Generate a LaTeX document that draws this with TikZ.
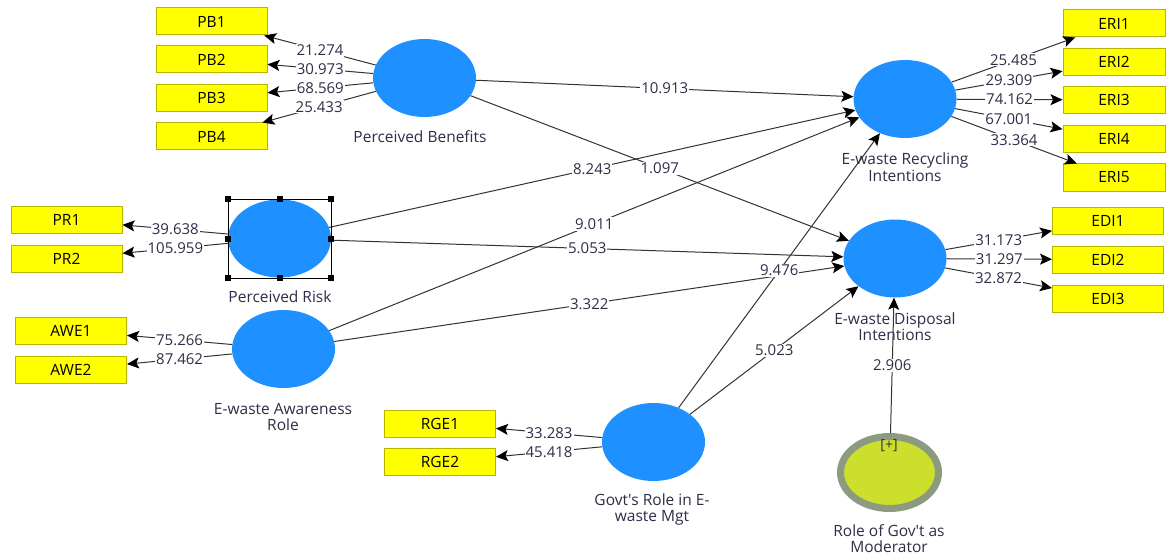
\documentclass[tikz,border=0pt]{standalone}
\usepackage{fontspec}
\setmainfont{Open Sans}
\usetikzlibrary{arrows.meta,shapes.geometric}
\definecolor{lvblue}{HTML}{1E90FF}
\definecolor{boxyel}{HTML}{FFFF00}
\definecolor{boxedge}{HTML}{B5B500}
\definecolor{modfill}{HTML}{CCDF2C}
\definecolor{modring}{HTML}{8C9A80}
\definecolor{txt}{HTML}{2E2E48}
\definecolor{edgec}{HTML}{333333}
\begin{document}
\begin{tikzpicture}[x=1pt,y=-1pt,
  lv/.style={ellipse, fill=lvblue, minimum width=103pt, minimum height=78pt, inner sep=0pt},
  ind/.style={rectangle, fill=boxyel, draw=boxedge, line width=1pt, minimum width=111pt, minimum height=27pt, inner sep=0pt, font=\fontsize{15.5}{18}\selectfont},
  indr/.style={ind, minimum width=102pt},
  lab/.style={fill=white, inner sep=1pt, text=txt, font=\fontsize{15}{16}\selectfont},
  lvname/.style={text=txt, align=center, font=\fontsize{15.5}{16.5}\selectfont},
  arr/.style={draw=edgec, line width=1pt, -{Stealth[length=12pt,width=11pt,inset=2.5pt,color=black]}},
  handle/.style={fill=black, minimum size=6pt, inner sep=0pt}]
\useasboundingbox (0,0) rectangle (1166,556);
\fill[white] (0,0) rectangle (1166,556);

% latent variables
\node[lv] (pb) at (424.5,78) {};
\node[lv] (pr) at (279.5,238.5) {};
\node[lv] (awe) at (283.5,349) {};
\node[lv] (rge) at (653.5,442) {};
\node[lv] (eri) at (905,99) {};
\node[lv] (edi) at (895,258.5) {};
\node[ellipse, fill=modfill, draw=modring, line width=7pt, minimum width=98pt, minimum height=72pt, inner sep=0pt] (mod) at (889.5,472.5) {};
\node[font=\fontsize{14}{16}\selectfont, text=black!80] (plus) at (889,446) {[+]};

% indicators
\node[ind] (pb1) at (211.5,21.5) {PB1};
\node[ind] (pb2) at (211.5,59.5) {PB2};
\node[ind] (pb3) at (211.5,98) {PB3};
\node[ind] (pb4) at (211.5,136.5) {PB4};
\node[ind] (pr1) at (66.5,220) {PR1};
\node[ind] (pr2) at (66.5,258.5) {PR2};
\node[ind] (awe1) at (71,330.5) {AWE1};
\node[ind] (awe2) at (71,369.5) {AWE2};
\node[ind] (rge1) at (440,423.5) {RGE1};
\node[ind] (rge2) at (440,462) {RGE2};
\node[indr] (eri1) at (1114,23.5) {ERI1};
\node[indr] (eri2) at (1114,62) {ERI2};
\node[indr] (eri3) at (1114,100) {ERI3};
\node[indr] (eri4) at (1114,139) {ERI4};
\node[indr] (eri5) at (1114,177.5) {ERI5};
\node[ind] (edi1) at (1108,221) {EDI1};
\node[ind] (edi2) at (1108,259.5) {EDI2};
\node[ind] (edi3) at (1108,298.5) {EDI3};

% names
\node[lvname] (npb) at (420,137) {Perceived Benefits};
\node[lvname] (npr) at (280,297) {Perceived Risk};
\node[lvname] (nawe) at (283,417) {E-waste Awareness\\Role};
\node[lvname] (nrge) at (652,509.5) {Govt\textquotesingle s Role in E-\\waste Mgt};
\node[lvname] (neri) at (905,167) {E-waste Recycling\\Intentions};
\node[lvname] (nedi) at (895,326.5) {E-waste Disposal\\Intentions};
\node[lvname] (nmod) at (889,538.5) {Role of Gov\textquotesingle t as\\Moderator};

% outer loadings
\draw[arr] (pb) -- node[lab]{21.274} (pb1);
\draw[arr] (pb) -- node[lab]{30.973} (pb2);
\draw[arr] (pb) -- node[lab]{68.569} (pb3);
\draw[arr] (pb) -- node[lab]{25.433} (pb4);
\draw[arr] (pr) -- node[lab]{39.638} (pr1);
\draw[arr] (pr) -- node[lab]{105.959} (pr2);
\draw[arr] (awe) -- node[lab]{75.266} (awe1);
\draw[arr] (awe) -- node[lab]{87.462} (awe2);
\draw[arr] (rge) -- node[lab]{33.283} (rge1);
\draw[arr] (rge) -- node[lab]{45.418} (rge2);
\draw[arr] (eri) -- node[lab]{25.485} (eri1);
\draw[arr] (eri) -- node[lab]{29.309} (eri2);
\draw[arr] (eri) -- node[lab]{74.162} (eri3);
\draw[arr] (eri) -- node[lab]{67.001} (eri4);
\draw[arr] (eri) -- node[lab]{33.364} (eri5);
\draw[arr] (edi) -- node[lab]{31.173} (edi1);
\draw[arr] (edi) -- node[lab]{31.297} (edi2);
\draw[arr] (edi) -- node[lab]{32.872} (edi3);

% structural paths
\draw[arr] (pb) -- node[lab]{10.913} (eri);
\draw[arr] (pb) -- node[lab]{1.097} (edi);
\draw[arr] (pr) -- node[lab]{8.243} (eri);
\draw[arr] (awe) -- node[lab]{9.011} (eri);
\draw[arr] (pr) -- node[lab]{5.053} (edi);
\draw[arr] (awe) -- node[lab]{3.322} (edi);
\draw[arr] (rge) -- node[lab]{9.476} (eri);
\draw[arr] (rge) -- node[lab]{5.023} (edi);
\draw[arr] (mod) -- node[lab]{2.906} (edi);

% selection frame on Perceived Risk
\draw[black, line width=0.9pt] (228,199) rectangle (331,278);
\node[handle] (h1) at (228,199) {};
\node[handle] (h2) at (279.5,199) {};
\node[handle] (h3) at (331,199) {};
\node[handle] (h4) at (228,238.5) {};
\node[handle] (h5) at (331,238.5) {};
\node[handle] (h6) at (228,278) {};
\node[handle] (h7) at (279.5,278) {};
\node[handle] (h8) at (331,278) {};
\end{tikzpicture}
\end{document}
